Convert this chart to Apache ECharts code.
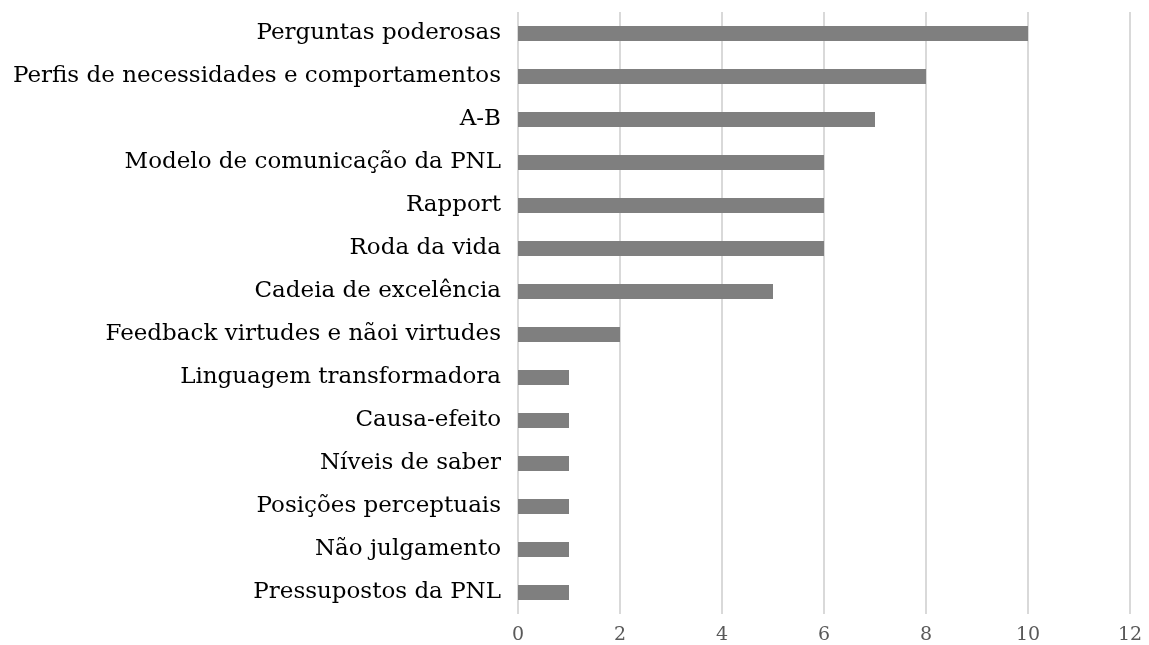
<!DOCTYPE html>
<html lang="pt">
<head>
    <meta charset="UTF-8">
    <title>Ferramentas</title>
    <script src="https://cdn.jsdelivr.net/npm/echarts@6/dist/echarts.min.js"></script>
</head>
<body style="margin:0;background:#fff;">
<div id="chart" style="width:1149px;height:645px;"></div>
<script>
    // categorias de baixo para cima (eixo y de categorias)
    var categories = [
        'Pressupostos da PNL',
        'Não julgamento',
        'Posições perceptuais',
        'Níveis de saber',
        'Causa-efeito',
        'Linguagem transformadora',
        'Feedback virtudes e nãoi virtudes',
        'Cadeia de excelência',
        'Roda da vida',
        'Rapport',
        'Modelo de comunicação da PNL',
        'A-B',
        'Perfis de necessidades e comportamentos',
        'Perguntas poderosas'
    ];
    var values = [1, 1, 1, 1, 1, 1, 2, 5, 6, 6, 6, 7, 8, 10];
    var xTicks = [0, 2, 4, 6, 8, 10, 12];

    var myChart = echarts.init(document.getElementById('chart'));
    myChart.setOption({
        animation: false,
        grid: {
            left: 518,
            right: 19,
            top: 12,
            bottom: 31
        },
        xAxis: {
            type: 'value',
            min: xTicks[0],
            max: xTicks[xTicks.length - 1],
            interval: 2,
            axisLine: {show: false},
            axisTick: {show: false},
            splitLine: {
                lineStyle: {color: '#d9d9d9', width: 2}
            },
            axisLabel: {
                color: '#595959',
                fontFamily: 'DejaVu Serif',
                fontSize: 19,
                margin: 12
            }
        },
        yAxis: {
            type: 'category',
            data: categories,
            axisLine: {show: false},
            axisTick: {show: false},
            axisLabel: {
                color: '#000',
                fontFamily: 'DejaVu Serif',
                fontSize: 23,
                margin: 17
            }
        },
        series: [{
            type: 'bar',
            data: values,
            barWidth: 15,
            itemStyle: {color: '#7f7f7f'}
        }]
    });
</script>
</body>
</html>
